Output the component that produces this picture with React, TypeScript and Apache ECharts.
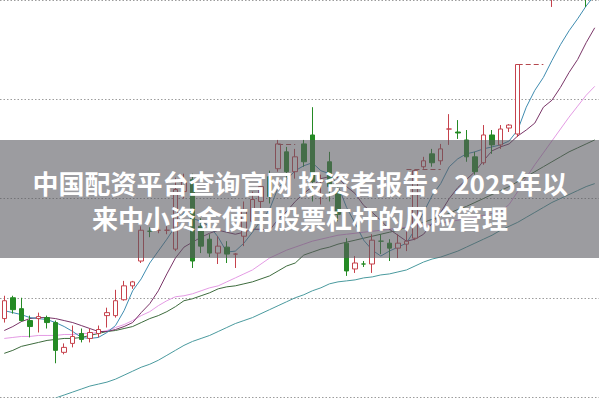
import React, { useEffect, useRef } from "react";
import * as echarts from "echarts";

// price values (open, close, low, high)
const ohlc: number[][] = [
  [79, 97, 75, 102],
  [100, 88, 84, 102], [89, 77, 76, 100], [77, 71, 60, 82], [79, 81, 65, 85], [80, 75, 69, 82],
  [75, 47, 34, 77], [45, 50, 43, 54], [54, 61, 50, 72], [64, 58, 55, 69], [59, 65, 55, 69],
  [64, 68, 60, 72], [82, 85, 70, 90], [82, 97, 80, 108], [98, 112, 97, 117], [112, 116, 109, 117],
  [137, 168, 135, 172], [167, 167, 161, 171], [168, 168, 165, 171], [168, 168, 164, 172], [149, 209, 147, 221],
  [207, 217, 200, 225], [219, 137, 130, 225], [172, 152, 145, 180], [159, 145, 141, 164], [145, 152, 134, 162],
  [151, 144, 135, 157], [144, 144, 130, 145], [162, 189, 152, 197], [177, 199, 172, 207], [197, 212, 190, 218],
  [222, 202, 195, 228], [230, 255, 227, 259], [247, 227, 220, 252], [227, 242, 220, 250], [255, 237, 232, 259],
  [264, 217, 197, 292], [217, 217, 194, 224], [237, 212, 197, 247], [207, 184, 177, 212], [155, 127, 122, 160],
  [129, 135, 125, 142], [134, 134, 131, 137], [134, 158, 125, 164], [157, 157, 144, 164], [155, 150, 137, 159],
  [150, 155, 140, 164], [154, 157, 147, 167], [160, 228, 158, 229], [232, 238, 230, 242], [245, 236, 232, 250],
  [238, 250, 234, 255], [270, 270, 254, 285], [267, 266, 260, 279], [259, 242, 237, 269], [242, 227, 224, 247],
  [236, 264, 234, 274], [264, 254, 245, 269], [254, 270, 250, 274], [271, 274, 267, 275], [265, 335, 262, 335],
  [410, 440, 405, 445], [445, 475, 440, 480], [478, 505, 470, 510], [500, 520, 393, 530], [525, 550, 520, 555],
  [555, 580, 550, 585], [585, 600, 580, 605], [610, 570, 393, 615], [575, 600, 570, 605],
];

const days: string[] = ohlc.map((_, i) => `D${i + 1}`);

const ma5: number[] = [
  87, 85, 83, 80, 79, 78, 75, 71, 66, 60, 59,
  60, 65, 72, 87, 107, 119, 135, 147, 159, 172,
  186, 180, 177, 172, 161, 146, 147, 155, 166, 178,
  189, 211, 219, 228, 233, 236, 228, 225, 213, 191,
  175, 158, 148, 142, 147, 151, 155, 169, 186, 203,
  215, 232, 240, 245, 247, 250, 252, 254, 258, 269,
  292, 309, 322, 339, 355, 369, 381, 394, 405,
];

const ma10: number[] = [
  67, 71, 76, 79, 80, 80, 79, 77, 75, 72, 69,
  66, 66, 68, 71, 75, 85, 94, 107, 124, 140,
  151, 156, 161, 165, 168, 166, 164, 166, 169, 169,
  168, 179, 187, 197, 205, 212, 220, 222, 221, 212,
  205, 193, 186, 178, 169, 163, 157, 159, 164, 175,
  186, 200, 211, 219, 227, 238, 248, 252, 255, 263,
  269, 276, 292, 299, 312, 327, 340, 357, 372,
];

const ma20: number[] = [
  59, 60, 61, 61, 62, 62, 62, 63, 63, 64, 64,
  65, 67, 70, 73, 77, 82, 86, 92, 97, 101,
  102, 104, 107, 110, 112, 116, 120, 124, 128, 134,
  140, 144, 148, 151, 154, 157, 159, 161, 163, 164,
  165, 166, 167, 168, 169, 170, 171, 172, 173, 174,
  175, 177, 178, 180, 181, 183, 185, 187, 194, 207,
  221, 234, 246, 258, 270, 282, 293, 304, 313,
];

const ma60: number[] = [
  44, 47, 51, 53, 55, 57, 58, 59, 59, 60, 62,
  64, 66, 67, 69, 71, 75, 79, 82, 86, 91,
  97, 99, 102, 105, 109, 111, 112, 114, 116, 119,
  122, 127, 132, 135, 143, 146, 149, 151, 154, 156,
  158, 160, 162, 164, 166, 168, 171, 173, 176, 179,
  182, 185, 189, 192, 196, 200, 204, 208, 212, 217,
  222, 227, 232, 237, 242, 247, 251, 255, 259,
];

const ma120: number[] = [
  -18, -15, -12, -9, -6, -3, -1, 2, 5, 8, 11,
  13, 15, 18, 22, 26, 30, 33, 37, 42, 47,
  52, 56, 59, 62, 66, 70, 74, 77, 80, 84,
  88, 92, 96, 100, 103, 107, 110, 114, 116, 117,
  118, 120, 121, 123, 124, 126, 128, 132, 136, 139,
  141, 144, 147, 151, 155, 159, 163, 168, 172, 176,
  181, 186, 191, 196, 200, 204, 208, 212, 215,
];

// dashed gap lines: [fromIndex, toIndex, value]
const gapLines: number[][] = [
  [32, 34, 255],
  [47, 51, 229],
  [60, 63, 335],
];

const title1 = "中国配资平台查询官网 投资者报告：2025年以";
const title2 = "来中小资金使用股票杠杆的风险管理";

export default function App() {
  const ref = useRef<HTMLDivElement>(null);
  useEffect(() => {
    document.body.style.margin = "0";
    const chart = echarts.init(ref.current!, null, { renderer: "svg" });
    const line = (data: number[], color: string) => ({
      type: "line",
      data,
      showSymbol: false,
      symbol: "none",
      smooth: false,
      lineStyle: { color, width: 1 },
      z: 3,
    });
    const textStyle = {
      fill: "#ffffff",
      fontSize: 26,
      fontWeight: "bold",
      fontFamily: '"Noto Sans CJK SC"',
      align: "center",
      verticalAlign: "middle",
    };
    chart.setOption({
      animation: false,
      backgroundColor: "#ffffff",
      grid: { left: -6, right: -6, top: -3, bottom: 2 },
      xAxis: {
        type: "category",
        data: days,
        boundaryGap: true,
        axisLine: { show: false },
        axisTick: { show: false },
        axisLabel: { show: false },
        splitLine: { show: false },
      },
      yAxis: {
        type: "value",
        min: 0,
        max: 400,
        interval: 100,
        axisLine: { show: false },
        axisTick: { show: false },
        axisLabel: { show: false },
        splitLine: { show: true, lineStyle: { color: "#9c9c9c", width: 1, type: [1.5, 2] } },
      },
      series: [
        line(ma120, "#4a9a9e"),
        line(ma60, "#3d6b3d"),
        line(ma20, "#e49be4"),
        line(ma10, "#7a3568"),
        line(ma5, "#3f8cb0"),
        {
          type: "candlestick",
          data: ohlc,
          barWidth: 5,
          z: 4,
          itemStyle: {
            color: "#ffffff",
            color0: "#248a24",
            borderColor: "#c6424c",
            borderColor0: "#248a24",
            borderWidth: 1,
          },
          markLine: {
            silent: true,
            symbol: ["none", "none"],
            label: { show: false },
            lineStyle: { color: "#b5484e", type: [5, 3], width: 1 },
            data: gapLines.map((g) => [
              { coord: [days[g[0]], g[2]] },
              { coord: [days[g[1]], g[2]] },
            ]),
          },
        },
      ],
      graphic: [
        {
          type: "rect",
          z: 100,
          shape: { x: 0, y: 140, width: 599, height: 118 },
          style: { fill: "rgba(90,90,96,0.6)" },
        },
        {
          type: "text",
          z: 101,
          x: 300,
          y: 182,
          style: { ...textStyle, text: title1 },
        },
        {
          type: "text",
          z: 101,
          x: 300,
          y: 217,
          style: { ...textStyle, text: title2 },
        },
      ],
    });
    return () => chart.dispose();
  }, []);
  return <div ref={ref} style={{ position: "absolute", left: 0, top: 0, width: 599, height: 399 }} />;
}
